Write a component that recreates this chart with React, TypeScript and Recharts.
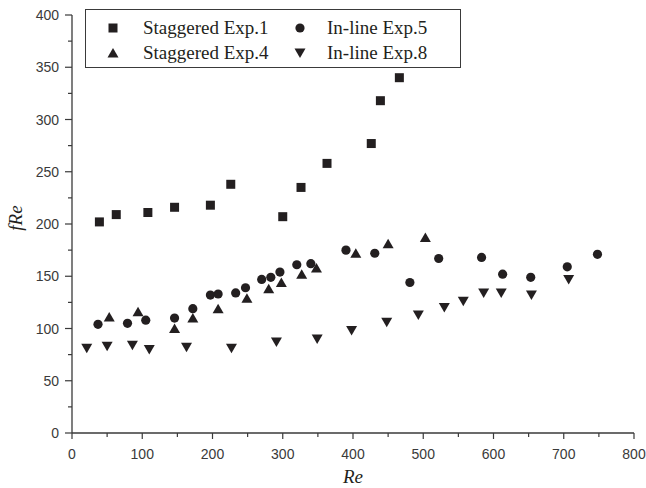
import { Label, Scatter, ScatterChart, XAxis, YAxis } from "recharts";

// Re vs fRe
const staggeredExp1 = [
  { x: 39, y: 202 }, { x: 63, y: 209 }, { x: 108, y: 211 }, { x: 146, y: 216 },
  { x: 197, y: 218 }, { x: 226, y: 238 }, { x: 300, y: 207 }, { x: 326, y: 235 },
  { x: 363, y: 258 }, { x: 426, y: 277 }, { x: 439, y: 318 }, { x: 466, y: 340 },
];
const staggeredExp4 = [
  { x: 53, y: 111 }, { x: 94, y: 116 }, { x: 146, y: 100 }, { x: 172, y: 110 },
  { x: 208, y: 119 }, { x: 249, y: 129 }, { x: 280, y: 138 }, { x: 298, y: 144 },
  { x: 327, y: 152 }, { x: 348, y: 158 }, { x: 404, y: 172 }, { x: 450, y: 181 },
  { x: 503, y: 187 },
];
const inlineExp5 = [
  { x: 37, y: 104 }, { x: 79, y: 105 }, { x: 105, y: 108 }, { x: 146, y: 110 },
  { x: 172, y: 119 }, { x: 197, y: 132 }, { x: 208, y: 133 }, { x: 233, y: 134 },
  { x: 247, y: 139 }, { x: 270, y: 147 }, { x: 283, y: 149 }, { x: 296, y: 154 },
  { x: 320, y: 161 }, { x: 340, y: 162 }, { x: 390, y: 175 }, { x: 431, y: 172 },
  { x: 481, y: 144 }, { x: 522, y: 167 }, { x: 583, y: 168 }, { x: 613, y: 152 },
  { x: 653, y: 149 }, { x: 705, y: 159 }, { x: 748, y: 171 },
];
const inlineExp8 = [
  { x: 21, y: 81 }, { x: 50, y: 83 }, { x: 86, y: 84 }, { x: 110, y: 80 },
  { x: 163, y: 82 }, { x: 227, y: 81 }, { x: 291, y: 87 }, { x: 349, y: 90 },
  { x: 398, y: 98 }, { x: 448, y: 106 }, { x: 493, y: 113 }, { x: 530, y: 120 },
  { x: 557, y: 126 }, { x: 586, y: 134 }, { x: 611, y: 134 }, { x: 654, y: 132 },
  { x: 707, y: 147 },
];

const xTicks = [0, 50, 100, 150, 200, 250, 300, 350, 400, 450, 500, 550, 600, 650, 700, 750, 800];
const yTicks = [0, 25, 50, 75, 100, 125, 150, 175, 200, 225, 250, 275, 300, 325, 350, 375, 400];

const INK = "#231f20";
const AXIS = "#3a3a3a";
const SANS = "'Liberation Sans', Arial, sans-serif";
const SERIF = "'Liberation Serif', 'Times New Roman', serif";

const Square = ({ cx, cy }: any) => (
  <rect x={cx - 4.5} y={cy - 4.5} width={9} height={9} fill={INK} />
);
const Dot = ({ cx, cy }: any) => <circle cx={cx} cy={cy} r={4.6} fill={INK} />;
const TriUp = ({ cx, cy }: any) => (
  <path d={`M${cx},${cy - 5} L${cx + 5.5},${cy + 4.5} L${cx - 5.5},${cy + 4.5} Z`} fill={INK} />
);
const TriDown = ({ cx, cy }: any) => (
  <path d={`M${cx - 5.5},${cy - 4.5} L${cx + 5.5},${cy - 4.5} L${cx},${cy + 5} Z`} fill={INK} />
);

const XTick = ({ x, y, payload }: any) => {
  const major = payload.value % 100 === 0;
  return (
    <g>
      <line x1={x} y1={y} x2={x} y2={y + (major ? 6 : 4)} stroke={AXIS} strokeWidth={1.2} />
      {major && (
        <text x={x} y={y + 26} textAnchor="middle" fontFamily={SANS} fontSize={14} fill={AXIS}>
          {payload.value}
        </text>
      )}
    </g>
  );
};

const YTick = ({ x, y, payload }: any) => {
  const major = payload.value % 50 === 0;
  return (
    <g>
      <line x1={x - (major ? 7 : 4)} y1={y} x2={x} y2={y} stroke={AXIS} strokeWidth={1.2} />
      {major && (
        <text x={x - 13} y={y + 5} textAnchor="end" fontFamily={SANS} fontSize={14} fill={AXIS}>
          {payload.value}
        </text>
      )}
    </g>
  );
};

const legendItems = [
  { name: "Staggered Exp.1", Icon: Square },
  { name: "In-line Exp.5", Icon: Dot },
  { name: "Staggered Exp.4", Icon: TriUp },
  { name: "In-line Exp.8", Icon: TriDown },
];

const ChartLegend = () => (
  <div
    style={{
      position: "absolute",
      left: 85,
      top: 9,
      width: 376,
      height: 59,
      boxSizing: "border-box",
      border: `1px solid ${AXIS}`,
      background: "#fff",
      fontFamily: SERIF,
      fontSize: 19,
      color: INK,
    }}
  >
    {legendItems.map((item, i) => {
      const col = i % 2;
      const row = Math.floor(i / 2);
      return (
        <div
          key={item.name}
          style={{
            position: "absolute",
            left: col === 0 ? 19 : 206,
            top: row === 0 ? 6 : 31,
            height: 24,
            display: "flex",
            alignItems: "center",
            whiteSpace: "nowrap",
          }}
        >
          <svg width={16} height={16} style={{ marginRight: col === 0 ? 22 : 19 }}>
            <item.Icon cx={8} cy={8} />
          </svg>
          <span>{item.name}</span>
        </div>
      );
    })}
  </div>
);

export default function App() {
  return (
    <div style={{ position: "absolute", left: 0, top: 0, width: 646, height: 488, background: "#fff" }}>
      <ScatterChart width={646} height={488} margin={{ top: 15, right: 12, left: 22, bottom: 15 }}>
        <XAxis
          type="number"
          dataKey="x"
          domain={[0, 800]}
          ticks={xTicks}
          interval={0}
          tick={<XTick />}
          tickLine={false}
          tickSize={0}
          tickMargin={0}
          height={40}
          axisLine={{ stroke: AXIS, strokeWidth: 1.3 }}
        >
          <Label
            content={({ viewBox }: any) => (
              <text
                x={viewBox.x + viewBox.width / 2}
                y={viewBox.y + 50}
                textAnchor="middle"
                fontFamily={SERIF}
                fontStyle="italic"
                fontSize={19}
                fill={INK}
              >
                Re
              </text>
            )}
          />
        </XAxis>
        <YAxis
          type="number"
          dataKey="y"
          domain={[0, 400]}
          ticks={yTicks}
          interval={0}
          tick={<YTick />}
          tickLine={false}
          tickSize={0}
          tickMargin={0}
          width={50}
          axisLine={{ stroke: AXIS, strokeWidth: 1.3 }}
        >
          <Label
            content={({ viewBox }: any) => {
              const lx = viewBox.x;
              const ly = viewBox.y + viewBox.height / 2 - 6;
              return (
                <text
                  x={lx}
                  y={ly}
                  transform={`rotate(-90, ${lx}, ${ly})`}
                  textAnchor="middle"
                  fontFamily={SERIF}
                  fontStyle="italic"
                  fontSize={19}
                  fill={INK}
                >
                  fRe
                </text>
              );
            }}
          />
        </YAxis>
        <Scatter name="Staggered Exp.1" data={staggeredExp1} shape={<Square />} isAnimationActive={false} />
        <Scatter name="Staggered Exp.4" data={staggeredExp4} shape={<TriUp />} isAnimationActive={false} />
        <Scatter name="In-line Exp.5" data={inlineExp5} shape={<Dot />} isAnimationActive={false} />
        <Scatter name="In-line Exp.8" data={inlineExp8} shape={<TriDown />} isAnimationActive={false} />
      </ScatterChart>
      <ChartLegend />
    </div>
  );
}
